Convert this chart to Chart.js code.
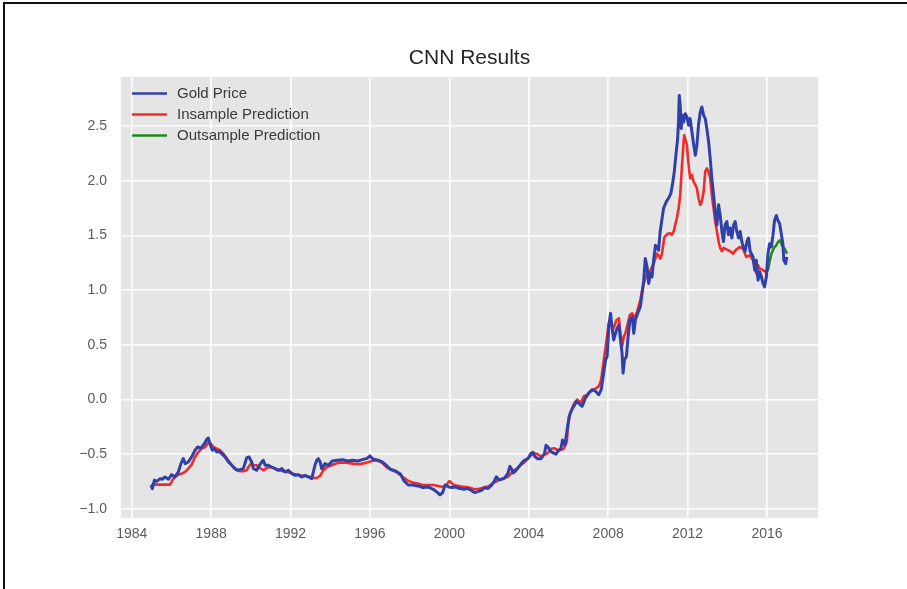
<!DOCTYPE html>
<html>
<head>
<meta charset="utf-8">
<script src="https://cdn.jsdelivr.net/npm/chart.js@4.4.0/dist/chart.umd.min.js"></script>
<style>
  html, body { margin: 0; padding: 0; background: #fff; overflow: hidden; }
  canvas { position: absolute; left: 0; top: 0; }
  #frame { position: absolute; left: 3px; top: 2px; width: 920px; height: 620px;
           border-top: 2px solid #111; border-left: 2px solid #111; }
</style>
</head>
<body>
<canvas id="cnnChart" width="907" height="589"></canvas>
<div id="frame"></div>
<script>
// tick labels
const xTicks = [1984, 1988, 1992, 1996, 2000, 2004, 2008, 2012, 2016];
const yTicks = [-1.0, -0.5, 0.0, 0.5, 1.0, 1.5, 2.0, 2.5];

// Gold Price (blue)
const goldYears = [
  1984.97, 1985.04, 1985.14, 1985.26, 1985.43, 1985.54, 1985.68, 1985.85, 1986.01, 1986.18,
  1986.35, 1986.48, 1986.60, 1986.69, 1986.85, 1987.02, 1987.19, 1987.32, 1987.49, 1987.66,
  1987.78, 1987.86, 1987.94, 1988.06, 1988.16, 1988.28, 1988.40, 1988.53, 1988.70, 1988.87,
  1989.04, 1989.20, 1989.37, 1989.62, 1989.79, 1989.91, 1990.04, 1990.13, 1990.30, 1990.38,
  1990.55, 1990.63, 1990.72, 1990.88, 1991.05, 1991.22, 1991.39, 1991.56, 1991.72, 1991.89,
  1992.06, 1992.23, 1992.40, 1992.56, 1992.73, 1992.90, 1993.07, 1993.23, 1993.32, 1993.40,
  1993.49, 1993.57, 1993.74, 1993.91, 1994.10, 1994.36, 1994.62, 1994.88, 1995.14, 1995.40,
  1995.66, 1995.86, 1996.00, 1996.17, 1996.43, 1996.60, 1996.86, 1997.03, 1997.29, 1997.55,
  1997.72, 1997.93, 1998.16, 1998.41, 1998.67, 1998.93, 1999.19, 1999.41, 1999.53, 1999.66,
  1999.79, 1999.97, 2000.14, 2000.31, 2000.48, 2000.74, 2000.91, 2001.09, 2001.26, 2001.43,
  2001.62, 2001.78, 2001.95, 2002.12, 2002.28, 2002.37, 2002.47, 2002.62, 2002.78, 2002.95,
  2003.05, 2003.15, 2003.22, 2003.33, 2003.45, 2003.62, 2003.78, 2003.95, 2004.12, 2004.22,
  2004.30, 2004.45, 2004.62, 2004.79, 2004.87, 2004.97, 2005.12, 2005.28, 2005.37, 2005.45,
  2005.62, 2005.70, 2005.82, 2005.92, 2006.03, 2006.12, 2006.25, 2006.41, 2006.58, 2006.69,
  2006.86, 2007.03, 2007.20, 2007.36, 2007.53, 2007.65, 2007.75, 2007.87, 2007.95, 2008.03,
  2008.12, 2008.20, 2008.28, 2008.42, 2008.54, 2008.62, 2008.70, 2008.75, 2008.82, 2008.92,
  2008.99, 2009.09, 2009.21, 2009.29, 2009.37, 2009.49, 2009.62, 2009.71, 2009.79, 2009.87,
  2009.96, 2010.04, 2010.13, 2010.21, 2010.29, 2010.38, 2010.46, 2010.54, 2010.62, 2010.79,
  2010.93, 2011.04, 2011.16, 2011.26, 2011.33, 2011.43, 2011.50, 2011.55, 2011.58, 2011.63,
  2011.68, 2011.73, 2011.80, 2011.88, 2011.97, 2012.05, 2012.13, 2012.22, 2012.30, 2012.39,
  2012.47, 2012.55, 2012.64, 2012.72, 2012.81, 2012.89, 2012.97, 2013.06, 2013.14, 2013.22,
  2013.31, 2013.39, 2013.48, 2013.56, 2013.64, 2013.73, 2013.81, 2013.89, 2013.98, 2014.06,
  2014.15, 2014.23, 2014.32, 2014.40, 2014.48, 2014.57, 2014.65, 2014.73, 2014.82, 2014.90,
  2014.99, 2015.07, 2015.15, 2015.30, 2015.38, 2015.46, 2015.55, 2015.63, 2015.72, 2015.80,
  2015.88, 2015.97, 2016.05, 2016.13, 2016.22, 2016.30, 2016.38, 2016.47, 2016.55, 2016.64,
  2016.72, 2016.80, 2016.85, 2016.94, 2017.00
];
const goldPrice = [
  -0.783, -0.814, -0.737, -0.747, -0.722, -0.728, -0.707, -0.728, -0.686, -0.707,
  -0.661, -0.585, -0.540, -0.585, -0.570, -0.524, -0.463, -0.433, -0.442, -0.403,
  -0.363, -0.351, -0.403, -0.463, -0.448, -0.479, -0.473, -0.494, -0.524, -0.570,
  -0.600, -0.631, -0.646, -0.631, -0.533, -0.524, -0.570, -0.631, -0.646, -0.616,
  -0.570, -0.555, -0.600, -0.600, -0.616, -0.631, -0.646, -0.631, -0.661, -0.646,
  -0.677, -0.692, -0.686, -0.707, -0.692, -0.707, -0.722, -0.600, -0.555, -0.540,
  -0.570, -0.631, -0.585, -0.600, -0.561, -0.555, -0.549, -0.561, -0.555, -0.561,
  -0.546, -0.537, -0.515, -0.546, -0.555, -0.567, -0.607, -0.637, -0.652, -0.683,
  -0.744, -0.780, -0.780, -0.789, -0.804, -0.798, -0.820, -0.850, -0.871, -0.850,
  -0.780, -0.798, -0.804, -0.798, -0.811, -0.820, -0.811, -0.829, -0.850, -0.841,
  -0.830, -0.805, -0.812, -0.785, -0.740, -0.705, -0.730, -0.730, -0.718, -0.675,
  -0.610, -0.640, -0.670, -0.652, -0.625, -0.585, -0.555, -0.540, -0.490, -0.482,
  -0.520, -0.540, -0.540, -0.495, -0.418, -0.435, -0.476, -0.491, -0.500, -0.476,
  -0.445, -0.370, -0.415, -0.294, -0.158, -0.112, -0.067, -0.015, -0.045, -0.061,
  0.015, 0.061, 0.091, 0.076, 0.045, 0.091, 0.212, 0.364, 0.394, 0.667,
  0.788, 0.652, 0.545, 0.636, 0.682, 0.545, 0.424, 0.242, 0.364, 0.394,
  0.545, 0.727, 0.758, 0.606, 0.727, 0.788, 0.848, 0.970, 1.091, 1.288,
  1.212, 1.061, 1.152, 1.121, 1.273, 1.409, 1.394, 1.364, 1.536, 1.748,
  1.809, 1.839, 1.885, 1.991, 2.082, 2.264, 2.385, 2.567, 2.779, 2.688,
  2.476, 2.597, 2.536, 2.612, 2.582, 2.506, 2.567, 2.445, 2.339, 2.233,
  2.324, 2.506, 2.627, 2.673, 2.597, 2.567, 2.476, 2.355, 2.203, 2.021,
  1.870, 1.718, 1.597, 1.779, 1.688, 1.536, 1.445, 1.597, 1.627, 1.506,
  1.567, 1.476, 1.597, 1.627, 1.536, 1.476, 1.536, 1.445, 1.385, 1.355,
  1.445, 1.476, 1.355, 1.303, 1.182, 1.273, 1.091, 1.167, 1.121, 1.061,
  1.030, 1.121, 1.333, 1.424, 1.394, 1.500, 1.636, 1.682, 1.636, 1.606,
  1.515, 1.424, 1.273, 1.242, 1.303
];

// Insample Prediction (red)
const inYears = [
  1984.98, 1985.09, 1985.34, 1985.68, 1985.93, 1986.05, 1986.18, 1986.35, 1986.52, 1986.69,
  1986.85, 1987.02, 1987.19, 1987.36, 1987.52, 1987.69, 1987.86, 1987.99, 1988.11, 1988.28,
  1988.45, 1988.62, 1988.79, 1988.95, 1989.12, 1989.29, 1989.46, 1989.62, 1989.79, 1989.88,
  1990.01, 1990.13, 1990.30, 1990.46, 1990.63, 1990.80, 1990.97, 1991.14, 1991.30, 1991.47,
  1991.64, 1991.81, 1991.97, 1992.14, 1992.31, 1992.48, 1992.65, 1992.82, 1992.99, 1993.15,
  1993.32, 1993.49, 1993.65, 1993.82, 1993.99, 1994.19, 1994.45, 1994.79, 1995.14, 1995.48,
  1995.83, 1996.09, 1996.34, 1996.60, 1996.86, 1997.12, 1997.38, 1997.64, 1997.90, 1998.16,
  1998.41, 1998.67, 1998.93, 1999.19, 1999.45, 1999.71, 1999.88, 2000.00, 2000.10, 2000.22,
  2000.48, 2000.74, 2001.00, 2001.26, 2001.52, 2001.78, 2001.95, 2002.28, 2002.62, 2002.95,
  2003.28, 2003.45, 2003.62, 2003.80, 2003.95, 2004.12, 2004.28, 2004.45, 2004.62, 2004.78,
  2004.95, 2005.12, 2005.28, 2005.45, 2005.62, 2005.78, 2005.92, 2005.98, 2006.08, 2006.20,
  2006.30, 2006.44, 2006.61, 2006.78, 2006.95, 2007.11, 2007.28, 2007.53, 2007.65, 2007.78,
  2007.92, 2008.03, 2008.15, 2008.28, 2008.42, 2008.54, 2008.62, 2008.70, 2008.79, 2008.87,
  2008.99, 2009.09, 2009.21, 2009.32, 2009.46, 2009.62, 2009.71, 2009.82, 2009.92, 2010.04,
  2010.13, 2010.29, 2010.38, 2010.46, 2010.54, 2010.63, 2010.71, 2010.83, 2010.96, 2011.09,
  2011.21, 2011.30, 2011.38, 2011.46, 2011.55, 2011.63, 2011.71, 2011.80, 2011.83, 2011.88,
  2011.97, 2012.02, 2012.07, 2012.13, 2012.22, 2012.30, 2012.39, 2012.47, 2012.55, 2012.64,
  2012.72, 2012.81, 2012.89, 2012.97, 2013.06, 2013.14, 2013.22, 2013.31, 2013.39, 2013.48,
  2013.56, 2013.64, 2013.73, 2013.81, 2013.98, 2014.15, 2014.29, 2014.45, 2014.63, 2014.79,
  2014.96, 2015.13, 2015.30, 2015.38, 2015.46, 2015.55, 2015.63, 2015.80, 2015.92
];
const inPred = [
  -0.783, -0.777, -0.777, -0.777, -0.777, -0.737, -0.707, -0.686, -0.677, -0.661,
  -0.631, -0.594, -0.524, -0.479, -0.448, -0.433, -0.393, -0.403, -0.433, -0.448,
  -0.463, -0.494, -0.539, -0.576, -0.616, -0.646, -0.655, -0.655, -0.646, -0.616,
  -0.585, -0.600, -0.600, -0.625, -0.646, -0.625, -0.616, -0.625, -0.637, -0.646,
  -0.655, -0.661, -0.667, -0.677, -0.686, -0.692, -0.698, -0.701, -0.707, -0.716,
  -0.716, -0.698, -0.646, -0.616, -0.607, -0.591, -0.576, -0.576, -0.585, -0.591,
  -0.576, -0.561, -0.555, -0.576, -0.622, -0.646, -0.668, -0.707, -0.738, -0.759,
  -0.768, -0.780, -0.780, -0.780, -0.789, -0.798, -0.774, -0.744, -0.759, -0.780,
  -0.789, -0.798, -0.804, -0.820, -0.815, -0.800, -0.794, -0.755, -0.726, -0.705,
  -0.642, -0.627, -0.595, -0.570, -0.540, -0.510, -0.490, -0.500, -0.520, -0.505,
  -0.490, -0.450, -0.445, -0.461, -0.461, -0.445, -0.385, -0.233, -0.130, -0.070,
  -0.030, 0.000, -0.030, 0.030, 0.045, 0.076, 0.091, 0.121, 0.182, 0.364,
  0.545, 0.697, 0.682, 0.652, 0.727, 0.742, 0.606, 0.485, 0.576, 0.606,
  0.697, 0.773, 0.788, 0.742, 0.803, 0.909, 1.000, 1.076, 1.136, 1.167,
  1.182, 1.242, 1.288, 1.333, 1.318, 1.288, 1.333, 1.485, 1.510, 1.521,
  1.506, 1.536, 1.597, 1.658, 1.748, 1.870, 2.112, 2.355, 2.415, 2.385,
  2.324, 2.203, 2.112, 2.021, 2.052, 1.991, 1.961, 1.930, 1.839, 1.779,
  1.809, 1.900, 2.082, 2.112, 2.082, 2.021, 1.870, 1.748, 1.627, 1.536,
  1.445, 1.385, 1.355, 1.385, 1.370, 1.355, 1.333, 1.370, 1.394, 1.379,
  1.303, 1.318, 1.273, 1.212, 1.152, 1.227, 1.197, 1.182, 1.167
];

// Outsample Prediction (green)
const outYears = [2015.92, 2016.05, 2016.13, 2016.22, 2016.30, 2016.38, 2016.47, 2016.55, 2016.64, 2016.72, 2016.80, 2016.89, 2016.97, 2017.02];
const outPred = [1.167, 1.182, 1.258, 1.333, 1.364, 1.394, 1.409, 1.439, 1.455, 1.424, 1.394, 1.379, 1.348, 1.333];

const FONT = '"Liberation Sans", Arial, sans-serif';

function pts(xs, ys) {
  return xs.map((x, i) => ({ x: x, y: ys[i] }));
}

const plotBackground = {
  id: 'plotBackground',
  beforeDraw(chart) {
    const { ctx, chartArea: a } = chart;
    ctx.save();
    ctx.fillStyle = '#e5e5e5';
    ctx.fillRect(a.left, a.top, a.right - a.left, a.bottom - a.top);
    ctx.restore();
  }
};

// legend drawn inside the upper-left corner of the plot
const innerLegend = {
  id: 'innerLegend',
  afterDraw(chart) {
    const { ctx, chartArea: a } = chart;
    ctx.save();
    ctx.font = '15px ' + FONT;
    ctx.textBaseline = 'middle';
    chart.data.datasets.forEach((ds, i) => {
      const y = a.top + 16.5 + i * 21;
      ctx.strokeStyle = ds.borderColor;
      ctx.lineWidth = 2.4;
      ctx.beginPath();
      ctx.moveTo(a.left + 11, y);
      ctx.lineTo(a.left + 46, y);
      ctx.stroke();
      ctx.fillStyle = '#3a3a3a';
      ctx.fillText(ds.label, a.left + 56, y);
    });
    ctx.restore();
  }
};

new Chart(document.getElementById('cnnChart').getContext('2d'), {
  type: 'line',
  data: {
    datasets: [
      { label: 'Gold Price', data: pts(goldYears, goldPrice), borderColor: '#3040aa', borderWidth: 3 },
      { label: 'Insample Prediction', data: pts(inYears, inPred), borderColor: '#f22a2a', borderWidth: 2.6 },
      { label: 'Outsample Prediction', data: pts(outYears, outPred), borderColor: '#1b8a1b', borderWidth: 2.5 }
    ]
  },
  options: {
    responsive: false,
    animation: false,
    elements: {
      point: { radius: 0 },
      line: { tension: 0, borderJoinStyle: 'round', fill: false }
    },
    layout: { padding: { left: 0, right: 89, top: 0, bottom: 0 } },
    plugins: {
      legend: { display: false },
      tooltip: { enabled: false },
      title: {
        display: true,
        text: 'CNN Results',
        fullSize: false,
        color: '#262626',
        font: { family: FONT, size: 21, weight: 'normal' },
        padding: { top: 45.7, bottom: 6.1 }
      }
    },
    scales: {
      x: {
        type: 'linear',
        min: 1983.46,
        max: 2018.57,
        afterBuildTicks: (s) => { s.ticks = xTicks.map(v => ({ value: v })); },
        afterFit: (s) => { s.height = 71; },
        border: { display: false },
        grid: { color: '#ffffff', lineWidth: 1.6, drawTicks: false },
        ticks: {
          padding: 8,
          color: '#5c5c5c',
          autoSkip: false,
          maxRotation: 0,
          font: { family: FONT, size: 14 },
          callback: (v) => String(v)
        }
      },
      y: {
        type: 'linear',
        min: -1.082,
        max: 2.947,
        afterBuildTicks: (s) => { s.ticks = yTicks.map(v => ({ value: v })); },
        afterFit: (s) => { s.width = 121; },
        border: { display: false },
        grid: { color: '#ffffff', lineWidth: 1.6, drawTicks: false },
        ticks: {
          padding: 14,
          color: '#5c5c5c',
          font: { family: FONT, size: 14 },
          callback: (v) => v.toFixed(1).replace('-', '\u2212')
        }
      }
    }
  },
  plugins: [plotBackground, innerLegend]
});
</script>
</body>
</html>
